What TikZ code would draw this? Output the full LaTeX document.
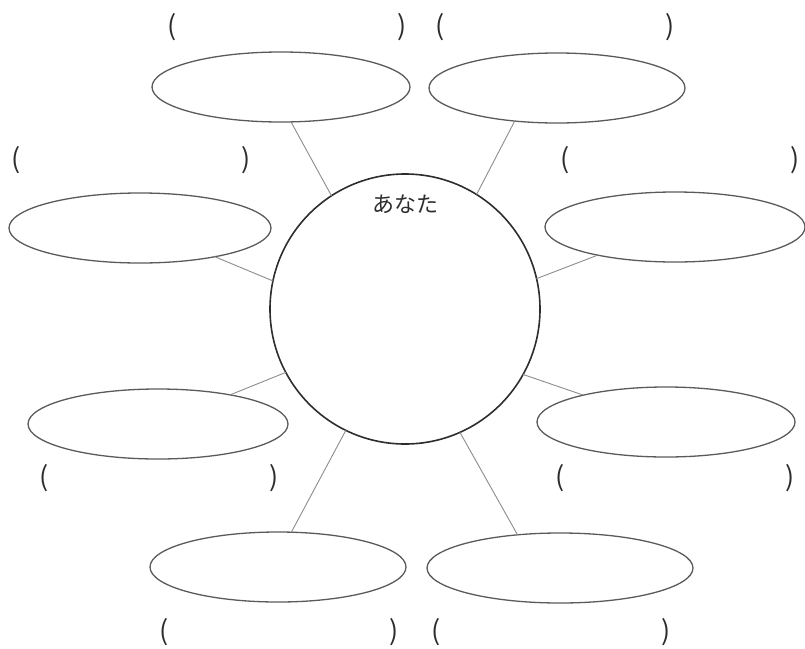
\documentclass[tikz,border=0pt]{standalone}
\usepackage{fontspec}
\usepackage{tikz}
\usetikzlibrary{shapes.geometric}
\newfontfamily\jp{Noto Sans CJK JP}
\definecolor{tracoescuro}{RGB}{45,45,45}
\definecolor{tracomedio}{RGB}{90,90,90}
\definecolor{tracoclaro}{RGB}{140,140,140}
\tikzset{
  centro/.style={circle,draw=tracoescuro,line width=1.6pt,minimum size=270pt,
    inner sep=0pt,outer sep=0pt},
  balao/.style={ellipse,draw=tracomedio,line width=1.3pt,minimum height=70pt,
    inner sep=0pt,outer sep=0pt},
  ligacao/.style={draw=tracoclaro,line width=0.9pt},
  rotulo/.style={inner sep=0pt,text=tracoescuro,font=\jp\fontsize{27}{30}\selectfont},
  titulo/.style={inner sep=0pt,text=tracoescuro,font=\jp\fontsize{22}{26}\selectfont}
}
\begin{document}
\begin{tikzpicture}[x=1pt,y=-1pt]
  \useasboundingbox (0,0) rectangle (805,648);
  % circulo central
  \node[centro] (voce) at (405,309) {};
  \node[titulo] (nome) at (405,204) {あなた};
  % baloes
  \foreach \nome/\x/\y/\w in {tl/281/87/258,tr/557/88/256,lm/140/228/262,rm/675/227/260,
      ll/158/424/260,rl/666/422/258,bl/278/567/256,br/560/568/266}
    {\node[balao,minimum width=\w pt] (\nome) at (\x,\y) {};}
  % ligacoes
  \foreach \nome/\a/\b in {tl/123/-74,tr/58/218,lm/168/-21,rm/13/200,
      ll/208/22,rl/331/162,bl/244/69,br/294/142}
    {\draw[ligacao] (voce.\a) -- (\nome.\b);}
  % parenteses
  \foreach \nome/\x/\y in {tl/287/27,tr/555/27,lm/131/160,rm/680/160,
      ll/159/478,rl/675/478,bl/279/632,br/551/632}
    {\node[rotulo] (p\nome) at (\x,\y) {(\hspace{220pt})};}
\end{tikzpicture}
\end{document}
